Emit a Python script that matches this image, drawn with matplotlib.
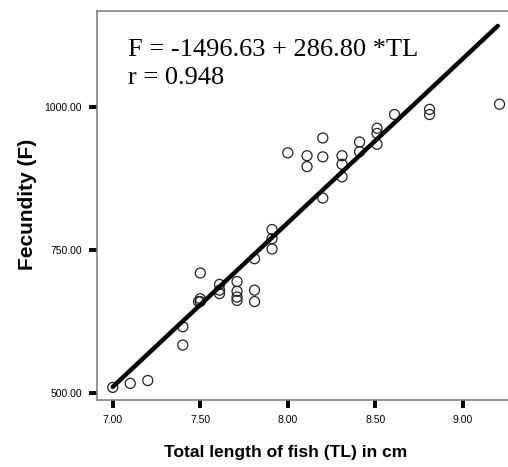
import numpy as np
import matplotlib
matplotlib.use("Agg")
import matplotlib.pyplot as plt

# total length (cm) and fecundity
tl = [7.00, 7.10, 7.20, 7.40, 7.40, 7.49, 7.50, 7.50, 7.50,
      7.61, 7.61, 7.61, 7.71, 7.71, 7.71, 7.71, 7.81, 7.81, 7.81,
      7.91, 7.91, 7.91, 8.00, 8.11, 8.11, 8.20, 8.20, 8.20,
      8.31, 8.31, 8.31, 8.41, 8.41, 8.51, 8.51, 8.51, 8.61,
      8.81, 8.81, 9.21]
fecundity = [510, 517, 522, 616, 584, 660, 710, 665, 660,
             690, 680, 674, 695, 678, 668, 662, 735, 680, 660,
             786, 770, 752, 920, 915, 896, 946, 913, 841,
             915, 900, 878, 939, 922, 963, 954, 935, 987,
             996, 987, 1005]

# regression reported on the chart
intercept = -1496.63
slope = 286.80
r_value = 0.948

xticks = [7.0, 7.5, 8.0, 8.5, 9.0]
yticks = [500, 750, 1000]

tick_font = ['Liberation Sans Narrow', 'Liberation Sans', 'DejaVu Sans']
label_font = ['Liberation Sans', 'DejaVu Sans']

fig = plt.figure(figsize=(5.08, 4.67), dpi=100)
ax = fig.add_axes([0.191, 0.1435, 0.812, 0.833])

ax.scatter(tl, fecundity, s=52, facecolors='none', edgecolors='#222222',
           linewidths=0.9, zorder=3)

x_line = np.array([7.0, 9.2])
ax.plot(x_line, intercept + slope * x_line, color='black', lw=3.2, zorder=4,
        solid_capstyle='round')

ax.set_xlim(6.91, 9.267)
ax.set_ylim(488, 1168)
ax.set_xticks(xticks)
ax.set_yticks(yticks)
ax.set_xticklabels([f"{v:.2f}" for v in xticks], family=tick_font, fontsize=7.5)
ax.set_yticklabels([f"{v:.2f}" for v in yticks], family=tick_font, fontsize=7.5)
ax.tick_params(direction='out', length=6, width=2.8, color='black', pad=5)

for side in ['left', 'top', 'bottom']:
    ax.spines[side].set_color('#808080')
    ax.spines[side].set_linewidth(1.2)
ax.spines['right'].set_visible(False)

ax.set_xlabel("Total length of fish (TL) in cm", fontsize=12.5, fontweight='bold',
              family=label_font)
ax.xaxis.set_label_coords(0.456, -0.117)
ax.set_ylabel("Fecundity (F)", fontsize=15, fontweight='bold',
              family=label_font)
ax.yaxis.set_label_coords(-0.145, 0.504)

ax.text(0.075, 0.864, f"F = {intercept:.2f} + {slope:.2f} *TL\nr = {r_value:.3f}",
        transform=ax.transAxes, family=['Liberation Serif', 'DejaVu Serif'],
        fontsize=19, va='center', ha='left', linespacing=1.35)

fig.savefig("out.png", dpi=100)
